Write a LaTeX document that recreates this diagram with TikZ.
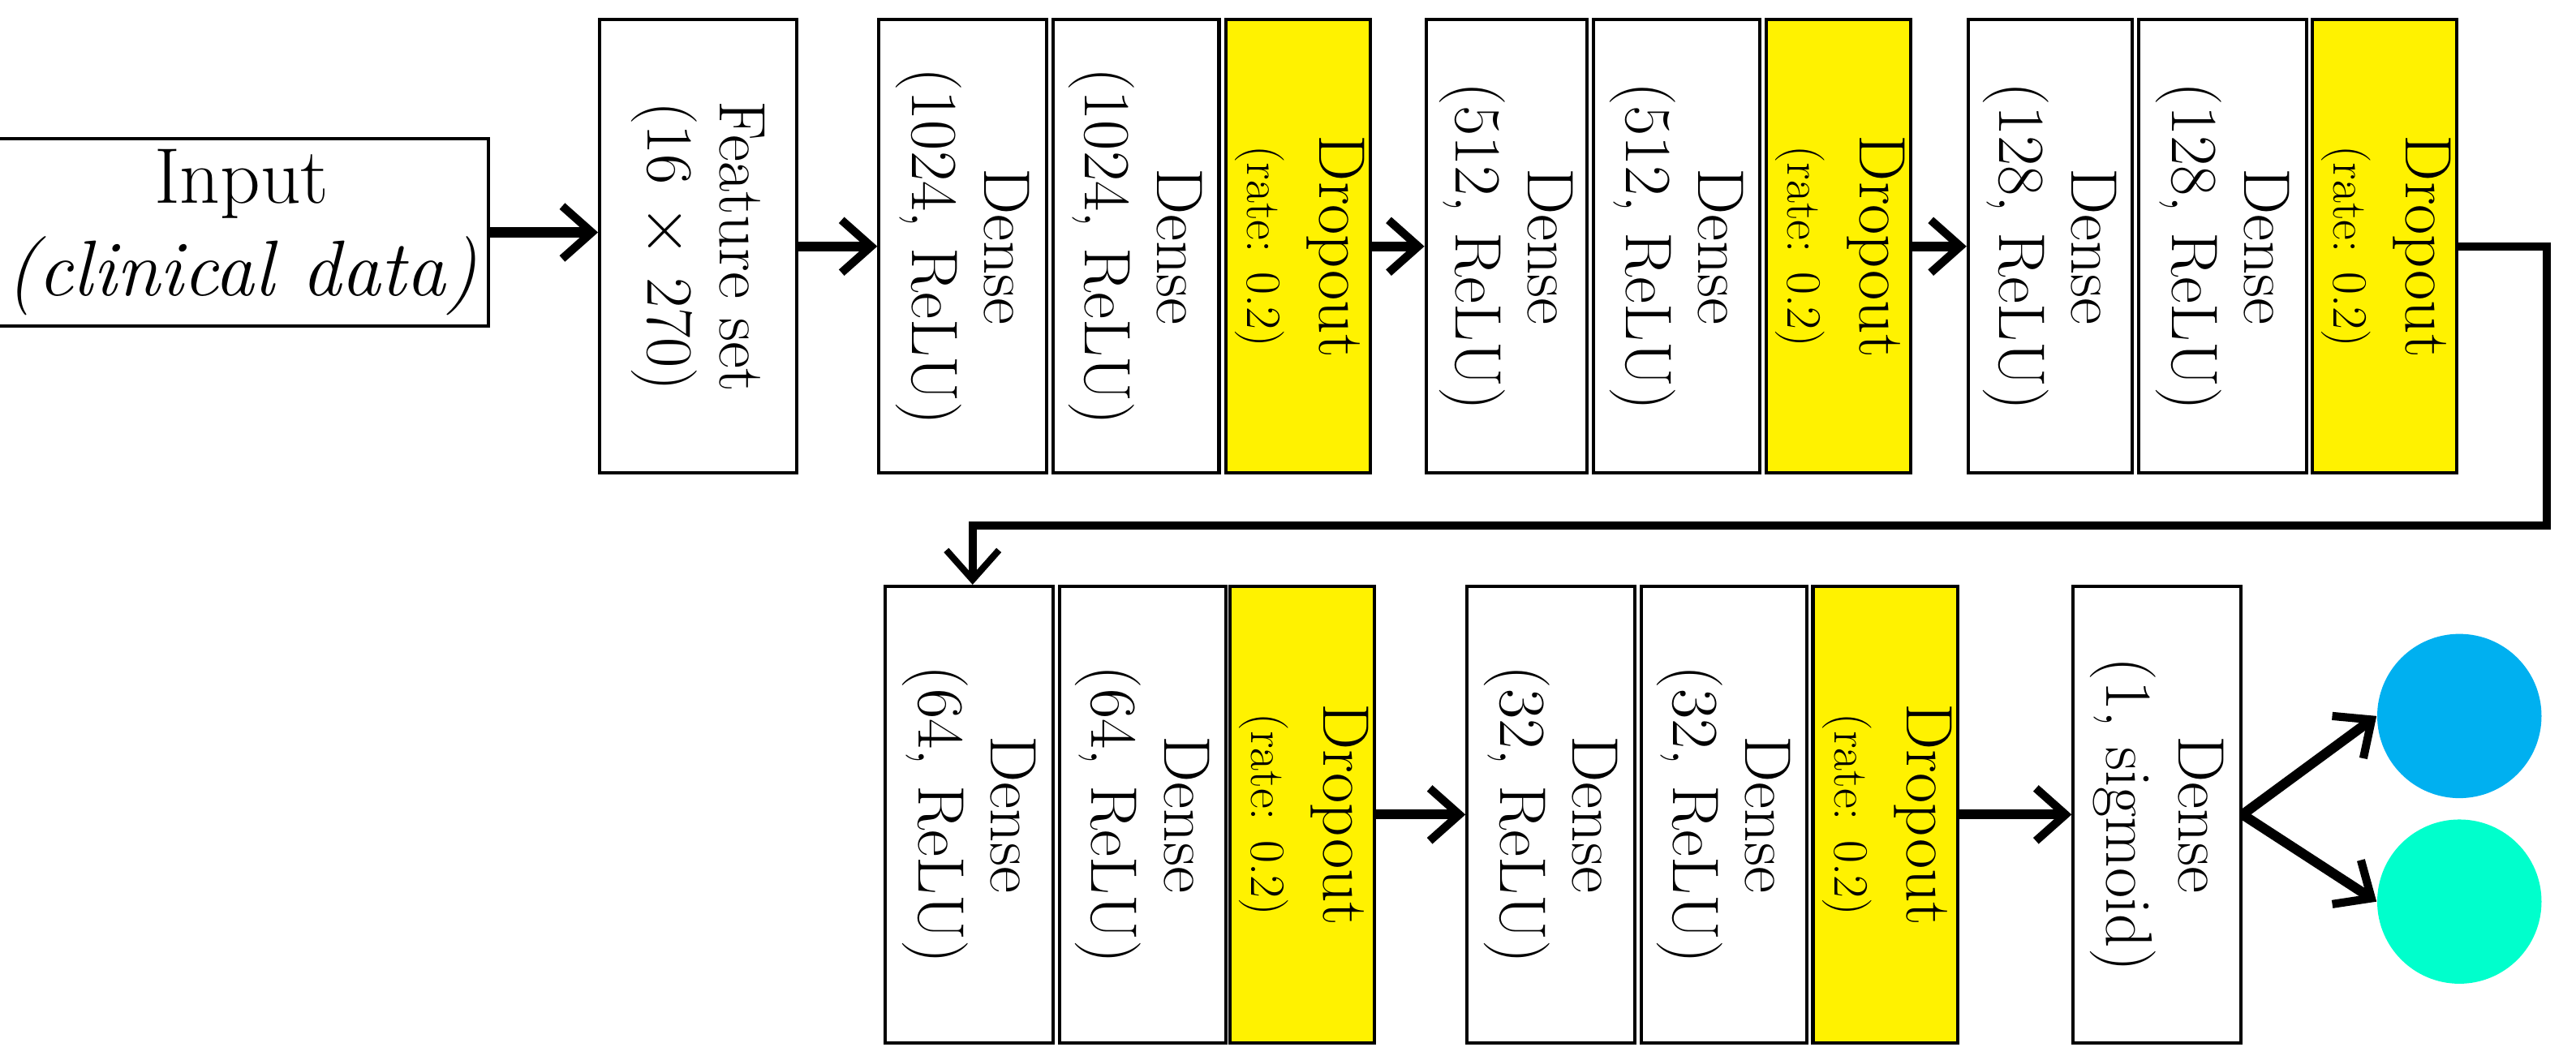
\documentclass[tikz,border=0pt]{standalone}
\usetikzlibrary{arrows.meta}
\definecolor{cblue}{RGB}{0,176,240}
\definecolor{ccyan}{RGB}{0,255,204}
\tikzset{
 lay/.style={draw=black,line width=1pt,inner sep=0pt,minimum height=138pt,align=center,font=\fontsize{20}{22}\selectfont},
 drop/.style={lay,fill=yellow},
 conn/.style={line width=3pt,-{Straight Barb[length=9pt,width=16pt,line width=2.5pt]}},
}
\newcommand{\rt}[1]{\rotatebox{-90}{\begin{tabular}{@{}c@{}}#1\end{tabular}}}
\begin{document}
\begin{tikzpicture}[x=0.5pt,y=-0.5pt]
\useasboundingbox (0,0) rectangle (1568,645);
\node[draw,line width=1pt,minimum width=138pt,minimum height=53.5pt,align=center,font=\fontsize{24}{28}\selectfont] (in) at (147,141.5) {Input\\\textit{(clinical data)}};
\node[lay,minimum width=60pt] (fs) at (425,150) {\rt{Feature set\\(16 $\times$ 270)}};
\node[lay,minimum width=51pt] (a1) at (586,150) {\rt{Dense\\(1024, ReLU)}};
\node[lay,minimum width=50.5pt] (a2) at (691.5,150) {\rt{Dense\\(1024, ReLU)}};
\node[drop,minimum width=44pt] (a3) at (790,150) {\rt{Dropout\\{\fontsize{15}{16}\selectfont(rate: 0.2)}}};
\node[lay,minimum width=49pt] (b1) at (917,150) {\rt{Dense\\(512, ReLU)}};
\node[lay,minimum width=50.5pt] (b2) at (1020.5,150) {\rt{Dense\\(512, ReLU)}};
\node[drop,minimum width=44pt] (b3) at (1119,150) {\rt{Dropout\\{\fontsize{15}{16}\selectfont(rate: 0.2)}}};
\node[lay,minimum width=50pt] (c1) at (1248,150) {\rt{Dense\\(128, ReLU)}};
\node[lay,minimum width=51pt] (c2) at (1353,150) {\rt{Dense\\(128, ReLU)}};
\node[drop,minimum width=43.5pt] (c3) at (1451.5,150) {\rt{Dropout\\{\fontsize{15}{16}\selectfont(rate: 0.2)}}};
\node[lay,minimum width=51pt,minimum height=139pt] (d1) at (590,496) {\rt{Dense\\(64, ReLU)}};
\node[lay,minimum width=50.5pt,minimum height=139pt] (d2) at (695.5,496) {\rt{Dense\\(64, ReLU)}};
\node[drop,minimum width=42.5pt,minimum height=139pt] (d3) at (792.5,496) {\rt{Dropout\\{\fontsize{15}{16}\selectfont(rate: 0.2)}}};
\node[lay,minimum width=51pt,minimum height=139pt] (e1) at (944,496) {\rt{Dense\\(32, ReLU)}};
\node[lay,minimum width=50.5pt,minimum height=139pt] (e2) at (1049.5,496) {\rt{Dense\\(32, ReLU)}};
\node[drop,minimum width=43.5pt,minimum height=139pt] (e3) at (1147.5,496) {\rt{Dropout\\{\fontsize{15}{16}\selectfont(rate: 0.2)}}};
\node[lay,minimum width=51pt,minimum height=139pt] (f1) at (1313,496) {\rt{Dense\\(1, sigmoid)}};
\node[circle,fill=cblue,minimum size=50pt,inner sep=0pt] (o1) at (1497,436) {};
\node[circle,fill=ccyan,minimum size=50pt,inner sep=0pt] (o2) at (1497,549) {};
\draw[conn] (in.east) -- (fs.west|-in.east);
\draw[conn] (fs.east) -- (a1.west);
\draw[conn] (a3.east) -- (b1.west);
\draw[conn] (b3.east) -- (c1.west);
\draw[line width=2.5pt,-{Straight Barb[length=9pt,width=16pt,line width=2pt]}] (c3.east) -- (1550,150) -- (1550,320) -- (592,320) -- (d1.north-|592,0);
\draw[conn] (d3.east) -- (e1.west);
\draw[conn] (e3.east) -- (f1.west);
\draw[conn] (f1.east) -- (o1.west);
\draw[conn] (f1.east) -- (o2.west);
\end{tikzpicture}
\end{document}
